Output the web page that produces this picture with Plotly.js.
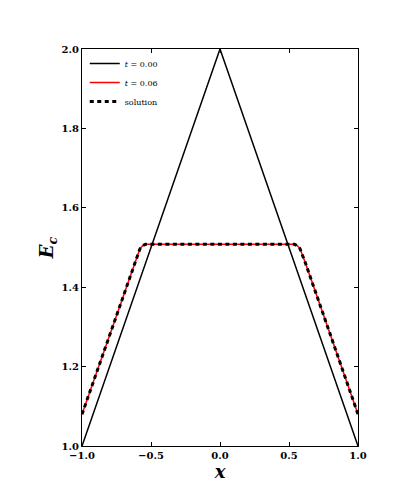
<!DOCTYPE html>
<html>
<head>
<meta charset="utf-8">
<script src="https://cdn.plot.ly/plotly-3.0.1.min.js"></script>
<style>body{margin:0;padding:0;background:#fff;}#chart{width:407px;height:497px;}</style>
</head>
<body>
<div id="chart"></div>
<script>
const xInit = [-1.0, 0.0, 1.0];
const yInit = [1.0, 2.0, 1.0];
const xNum = [-1.0, -0.62, -0.60, -0.58, -0.56, -0.54, 0.54, 0.56, 0.58, 0.60, 0.62, 1.0];
const yNum = [1.08, 1.46, 1.48, 1.497, 1.505, 1.508, 1.508, 1.505, 1.497, 1.48, 1.46, 1.08];
const xSol = [-1.0, -0.62, -0.60, -0.58, -0.56, -0.54, 0.54, 0.56, 0.58, 0.60, 0.62, 1.0];
const ySol = [1.08, 1.46, 1.48, 1.497, 1.505, 1.508, 1.508, 1.505, 1.497, 1.48, 1.46, 1.08];
const names = ["<i>t</i> = 0.00", "<i>t</i> = 0.06", "solution"];
const xTicks = [-1.0, -0.5, 0.0, 0.5, 1.0];
const xTickText = ["\u22121.0", "\u22120.5", "0.0", "0.5", "1.0"];
const yTicks = [1.0, 1.2, 1.4, 1.6, 1.8, 2.0];

const font = "DejaVu Serif, Liberation Serif, serif";
const traces = [
  {x: xInit, y: yInit, mode: "lines", name: names[0], line: {color: "black", width: 1.5}},
  {x: xNum, y: yNum, mode: "lines", name: names[1], line: {color: "red", width: 1.5}},
  {x: xSol, y: ySol, mode: "lines", name: names[2], line: {color: "black", width: 3, dash: "4px,3.5px"}}
];
const axisCommon = {
  showgrid: false, zeroline: false, showline: true, linecolor: "black", linewidth: 1,
  mirror: "ticks", ticks: "inside", ticklen: 4, tickcolor: "black",
  tickfont: {family: font, size: 10, color: "black", weight: "bold"}
};
const layout = {
  width: 407, height: 497,
  margin: {l: 82, r: 49, t: 49, b: 51},
  paper_bgcolor: "white", plot_bgcolor: "white",
  showlegend: true,
  legend: {x: 0.01, y: 1.0, xanchor: "left", yanchor: "top", bgcolor: "rgba(255,255,255,0)",
    font: {family: font, size: 8, color: "black"}, itemwidth: 30, tracegroupgap: 0},
  xaxis: Object.assign({}, axisCommon, {range: [-1, 1], tickvals: xTicks, ticktext: xTickText,
    title: {text: "<b><i>x</i></b>", font: {family: font, size: 18, color: "black"}, standoff: 1}}),
  yaxis: Object.assign({}, axisCommon, {range: [1, 2], tickvals: yTicks, tickformat: ".1f",
    title: {text: "<b><i>E<sub>c</sub></i></b>", font: {family: font, size: 18, color: "black"}, standoff: 3}})
};
Plotly.newPlot("chart", traces, layout, {displayModeBar: false, staticPlot: true});
</script>
</body>
</html>
